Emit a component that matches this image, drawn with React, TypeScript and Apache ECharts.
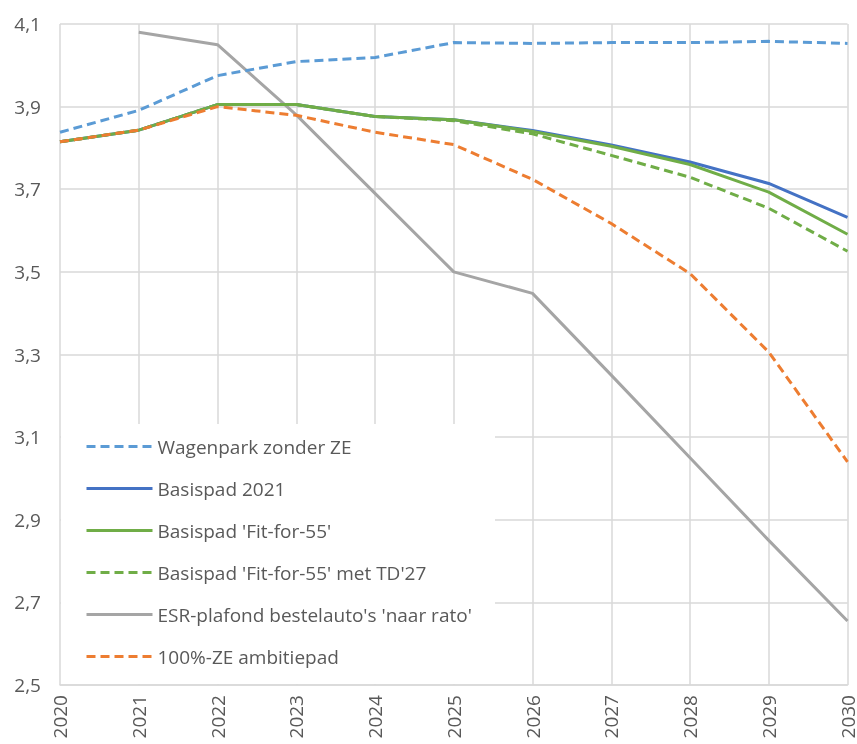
import React, { useEffect, useRef } from "react";
import * as echarts from "echarts";

const years = ["2020", "2021", "2022", "2023", "2024", "2025", "2026", "2027", "2028", "2029", "2030"];
const wagenpark = [3.838, 3.891, 3.975, 4.009, 4.019, 4.055, 4.053, 4.055, 4.055, 4.058, 4.053];
const basispad2021 = [3.815, 3.843, 3.905, 3.905, 3.876, 3.868, 3.842, 3.807, 3.766, 3.714, 3.632];
const fitFor55 = [3.815, 3.843, 3.905, 3.905, 3.876, 3.868, 3.840, 3.804, 3.760, 3.693, 3.591];
const fitFor55TD = [3.815, 3.843, 3.905, 3.905, 3.876, 3.866, 3.834, 3.782, 3.729, 3.654, 3.550];
const esrPlafond = [null, 4.080, 4.050, 3.880, 3.690, 3.500, 3.448, 3.250, 3.050, 2.850, 2.655];
const ambitiepad = [3.815, 3.843, 3.900, 3.879, 3.838, 3.808, 3.724, 3.617, 3.496, 3.306, 3.040];

const names = [
  "Wagenpark zonder ZE",
  "Basispad 2021",
  "Basispad 'Fit-for-55'",
  "Basispad 'Fit-for-55' met TD'27",
  "ESR-plafond bestelauto's 'naar rato'",
  "100%-ZE ambitiepad",
];
const colors = ["#5b9bd5", "#4472c4", "#70ad47", "#70ad47", "#a5a5a5", "#ed7d31"];
const dashes = ["dashed", "solid", "solid", "dashed", "solid", "dashed"];
const seriesData = [wagenpark, basispad2021, fitFor55, fitFor55TD, esrPlafond, ambitiepad];

export default function App() {
  const ref = useRef<HTMLDivElement>(null);
  useEffect(() => {
    document.body.style.margin = "0";
    const chart = echarts.init(ref.current!, null, { renderer: "svg" });
    const font = "'Open Sans', 'Noto Sans', sans-serif";
    chart.setOption({
      animation: false,
      textStyle: { fontFamily: font },
      grid: { left: 60, right: 6, top: 24, bottom: 59, containLabel: false },
      graphic: [
        {
          type: "rect",
          z: 3,
          shape: { x: 61, y: 424, width: 434, height: 260 },
          style: { fill: "#ffffff" },
        },
      ],
      xAxis: {
        type: "category",
        data: years,
        boundaryGap: false,
        axisLine: { show: true, lineStyle: { color: "#d9d9d9", width: 1.5 } },
        axisTick: { show: false },
        splitLine: { show: true, lineStyle: { color: "#d9d9d9", width: 1.5 } },
        axisLabel: { rotate: 90, color: "#595959", fontSize: 19, margin: 10, fontFamily: font },
      },
      yAxis: {
        type: "value",
        min: 2.5,
        max: 4.1,
        interval: 0.2,
        axisLine: { show: false },
        axisTick: { show: false },
        splitLine: { show: true, lineStyle: { color: "#d9d9d9", width: 1.5 } },
        axisLabel: {
          color: "#595959",
          fontSize: 19,
          margin: 19,
          fontFamily: font,
          formatter: (v: number) => v.toFixed(1).replace(".", ","),
        },
      },
      legend: {
        orient: "vertical",
        left: 85,
        top: 437,
        z: 5,
        padding: 0,
        itemWidth: 66,
        itemHeight: 14,
        itemGap: 23,
        data: names,
        itemStyle: { opacity: 0 },
        lineStyle: { width: 3 },
        textStyle: { color: "#595959", fontSize: 19, fontFamily: font },
      },
      series: seriesData.map((d, i) => ({
        name: names[i],
        type: "line",
        data: d,
        symbol: "none",
        connectNulls: false,
        lineStyle: { color: colors[i], width: 3, type: dashes[i] === "dashed" ? [9, 5] : "solid" },
        itemStyle: { color: colors[i] },
        z: i === 4 ? 1 : 2,
      })),
    });
    return () => chart.dispose();
  }, []);
  return <div ref={ref} style={{ position: "fixed", left: 0, top: 0, width: 857, height: 744 }} />;
}
